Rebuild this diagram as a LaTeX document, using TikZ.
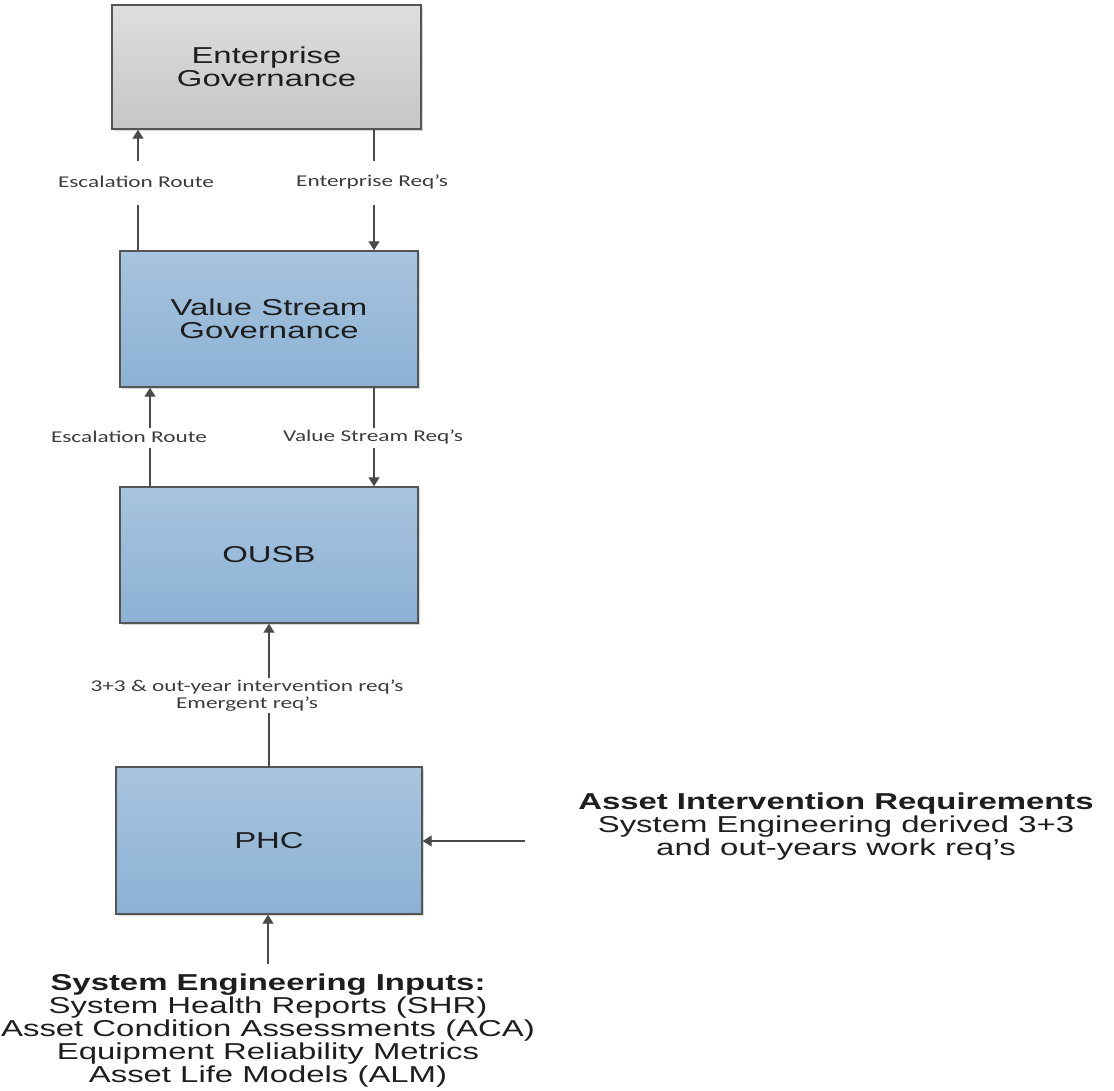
\documentclass[tikz,border=0pt]{standalone}
\usepackage{fontspec}
\setmainfont{Liberation Sans}
\newfontfamily\boxfont[FakeStretch=1.43]{Liberation Sans}
\newfontfamily\lblfont[FakeStretch=1.41]{Carlito}
\usetikzlibrary{arrows.meta,shadows}
\definecolor{edge}{HTML}{555555}
\definecolor{conn}{HTML}{4A4A4A}
\definecolor{txt}{HTML}{1E1E1E}
\definecolor{lbltxt}{HTML}{3C3C3C}
\definecolor{greytop}{HTML}{DEDEDE}
\definecolor{greybot}{HTML}{C6C6C6}
\definecolor{bluetop}{HTML}{A7C4DF}
\definecolor{bluebot}{HTML}{8CB1D4}
\tikzset{
  box/.style={draw=edge, line width=1.4pt, inner sep=0pt, align=center,
    text=txt, font={\boxfont\fontsize{23}{23.5}\selectfont},
    drop shadow={shadow xshift=1.6pt, shadow yshift=-1.6pt, fill=black!30, opacity=0.5}},
  greybox/.style={box, top color=greytop, bottom color=greybot},
  bluebox/.style={box, top color=bluetop, bottom color=bluebot},
  lbl/.style={inner sep=0pt, align=center, text=lbltxt,
    font={\lblfont\fontsize{16.5}{17}\selectfont}},
  bigtext/.style={inner sep=0pt, align=center, text=txt,
    font={\boxfont\fontsize{23}{23}\selectfont}},
  conline/.style={draw=conn, line width=1.3pt},
  arr/.style={conline, -{Triangle[width=11pt,length=9pt]}},
}
\begin{document}
\begin{tikzpicture}[x=1pt,y=-1pt]
\useasboundingbox (0,0) rectangle (1114,1090);

% boxes
\node[greybox, minimum width=309pt, minimum height=124pt] (EG) at (266.5,67) {Enterprise\\Governance};
\node[bluebox, minimum width=298pt, minimum height=136pt] (VSG) at (269,319) {Value Stream\\Governance};
\node[bluebox, minimum width=298pt, minimum height=136pt] (OUSB) at (269,555) {OUSB};
\node[bluebox, minimum width=306pt, minimum height=147pt] (PHC) at (269,840.5) {PHC};

% labels
\node[lbl] (L1) at (136,182) {Escalation Route};
\node[lbl] (L2) at (372,182) {Enterprise Req’s};
\node[lbl] (L3) at (129,437) {Escalation Route};
\node[lbl] (L4) at (373,437) {Value Stream Req’s};
\node[lbl] (L5) at (247,696) {3+3 \& out-year intervention req’s\\Emergent req’s};

\node[bigtext] (R) at (836,827) {\textbf{Asset Intervention Requirements}\\System Engineering derived 3+3\\and out-years work req’s};
\node[bigtext] (B) at (268,1031) {\textbf{System Engineering Inputs:}\\System Health Reports (SHR)\\Asset Condition Assessments (ACA)\\Equipment Reliability Metrics\\Asset Life Models (ALM)};

% gap coordinates
\coordinate (a1s) at (138,205); \coordinate (a1e) at (138,161);
\coordinate (a2s) at (374,161); \coordinate (a2e) at (374,205);
\coordinate (a3s) at (150,448); \coordinate (a3e) at (150,428);
\coordinate (a4s) at (374,428); \coordinate (a4e) at (374,448);
\coordinate (a5s) at (269,713); \coordinate (a5e) at (269,678);
\coordinate (a6s) at (525,841);
\coordinate (a7s) at (268,964);

% connectors
\draw[conline] (VSG.north -| a1s) -- (a1s);
\draw[arr] (a1e) -- (EG.south -| a1e);
\draw[conline] (EG.south -| a2s) -- (a2s);
\draw[arr] (a2e) -- (VSG.north -| a2e);
\draw[conline] (OUSB.north -| a3s) -- (a3s);
\draw[arr] (a3e) -- (VSG.south -| a3e);
\draw[conline] (VSG.south -| a4s) -- (a4s);
\draw[arr] (a4e) -- (OUSB.north -| a4e);
\draw[conline] (PHC.north -| a5s) -- (a5s);
\draw[arr] (a5e) -- (OUSB.south -| a5e);
\draw[arr] (a6s) -- (PHC.east |- a6s);
\draw[arr] (a7s) -- (PHC.south -| a7s);
\end{tikzpicture}
\end{document}
